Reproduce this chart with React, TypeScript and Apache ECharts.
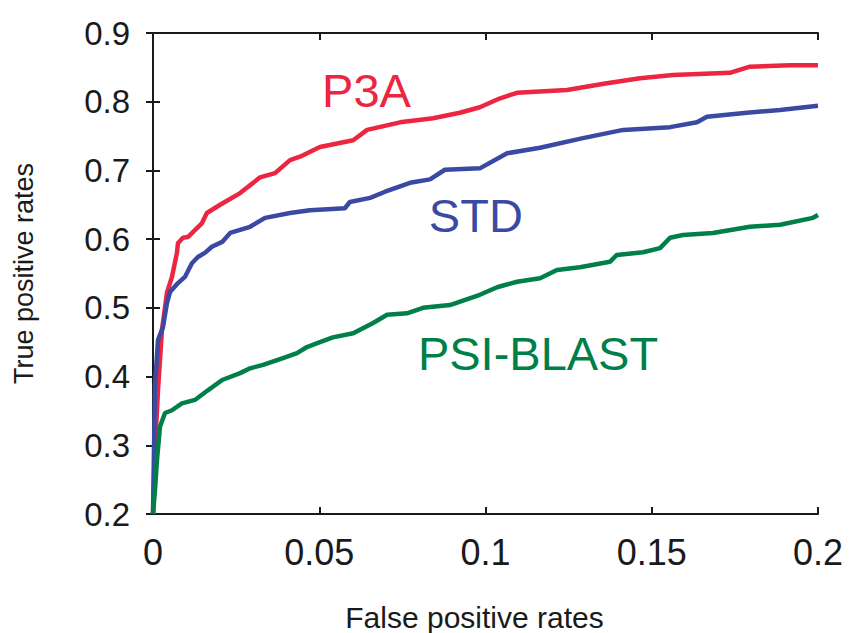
import React, { useEffect, useRef } from "react";
import * as echarts from "echarts";

// False positive rate (x) and true positive rate (y)
const p3aX = [0, 0.0006, 0.0015, 0.0027, 0.0042, 0.0057, 0.0072, 0.0075, 0.009, 0.0105, 0.0126, 0.0147, 0.0162, 0.0202, 0.0262, 0.0322, 0.0367, 0.0412, 0.0442, 0.0502, 0.0602, 0.0644, 0.0743, 0.0842, 0.0923, 0.0983, 0.1044, 0.1095, 0.1245, 0.1365, 0.1465, 0.1564, 0.1735, 0.1795, 0.1916, 0.2];
const p3aY = [0.2, 0.293, 0.38, 0.468, 0.522, 0.545, 0.58, 0.594, 0.602, 0.603, 0.613, 0.623, 0.638, 0.65, 0.667, 0.69, 0.696, 0.715, 0.72, 0.734, 0.744, 0.759, 0.77, 0.776, 0.784, 0.792, 0.805, 0.813, 0.817, 0.827, 0.834, 0.839, 0.842, 0.851, 0.853, 0.853];

const stdX = [0, 0.0003, 0.0006, 0.0015, 0.003, 0.0042, 0.0051, 0.0075, 0.0096, 0.0117, 0.0135, 0.0156, 0.0177, 0.0208, 0.0232, 0.0292, 0.0337, 0.0412, 0.0472, 0.0577, 0.0592, 0.0653, 0.0698, 0.0773, 0.0833, 0.0878, 0.0983, 0.1065, 0.1164, 0.1293, 0.1414, 0.1555, 0.1636, 0.1666, 0.1786, 0.1886, 0.2];
const stdY = [0.2, 0.293, 0.385, 0.453, 0.472, 0.507, 0.523, 0.536, 0.545, 0.565, 0.574, 0.58, 0.589, 0.596, 0.609, 0.618, 0.631, 0.638, 0.642, 0.645, 0.654, 0.66, 0.669, 0.682, 0.687, 0.701, 0.703, 0.725, 0.733, 0.747, 0.759, 0.763, 0.77, 0.778, 0.784, 0.788, 0.794];

const psiX = [0, 0.0006, 0.0012, 0.0021, 0.0036, 0.0057, 0.0087, 0.0126, 0.0165, 0.0208, 0.0262, 0.0292, 0.0331, 0.0391, 0.0433, 0.0463, 0.0502, 0.0541, 0.0602, 0.0662, 0.0704, 0.0764, 0.0812, 0.0893, 0.0983, 0.1035, 0.1095, 0.1164, 0.1215, 0.1284, 0.1374, 0.1395, 0.1474, 0.1525, 0.1555, 0.1594, 0.1684, 0.1795, 0.1886, 0.1985, 0.2];
const psiY = [0.2, 0.235, 0.279, 0.327, 0.347, 0.351, 0.361, 0.366, 0.38, 0.395, 0.405, 0.412, 0.417, 0.427, 0.434, 0.443, 0.45, 0.457, 0.463, 0.478, 0.49, 0.492, 0.5, 0.504, 0.519, 0.53, 0.538, 0.543, 0.555, 0.559, 0.567, 0.577, 0.581, 0.587, 0.602, 0.606, 0.609, 0.618, 0.621, 0.631, 0.635];

const seriesNames = ["P3A", "STD", "PSI-BLAST"];
const seriesColors = ["#ec2540", "#3a4aa3", "#007f48"];
// label anchor positions (data coordinates)
const labelX = [0.0642, 0.0971, 0.1158];
const labelY = [0.817, 0.635, 0.433];

const xTicks = [0, 0.05, 0.1, 0.15, 0.2];
const yTicks = [0.2, 0.3, 0.4, 0.5, 0.6, 0.7, 0.8, 0.9];

const FONT = "'Liberation Sans', Arial, Helvetica, sans-serif";

export default function App() {
  const ref = useRef<HTMLDivElement>(null);
  useEffect(() => {
    document.body.style.margin = "0";
    const chart = echarts.init(ref.current!, null, { renderer: "svg" });
    const xs = [p3aX, stdX, psiX];
    const ys = [p3aY, stdY, psiY];
    const axisLine = { show: true, lineStyle: { color: "#1a1a1a", width: 2 } };
    const axisTick = { show: true, inside: true, length: 7, lineStyle: { color: "#1a1a1a", width: 2 } };
    const option: any = {
      animation: false,
      backgroundColor: "#ffffff",
      grid: { left: 153, right: 37, top: 33, bottom: 119, containLabel: false, outerBoundsMode: "none" },
      xAxis: [
        {
          type: "value",
          min: xTicks[0],
          max: xTicks[xTicks.length - 1],
          interval: 0.05,
          position: "bottom",
          axisLine,
          axisTick,
          splitLine: { show: false },
          axisLabel: {
            margin: 20,
            fontSize: 36,
            color: "#1a1a1a",
            fontFamily: FONT,
            formatter: (v: number) => String(+v.toFixed(2)),
          },
          name: "False positive rates",
          nameLocation: "middle",
          nameGap: 88,
          nameTextStyle: { fontSize: 30, color: "#1a1a1a", fontFamily: FONT, padding: [0, 22, 0, 0] },
        },
        {
          type: "value",
          min: xTicks[0],
          max: xTicks[xTicks.length - 1],
          interval: 0.05,
          position: "top",
          axisLine,
          axisTick,
          splitLine: { show: false },
          axisLabel: { show: false },
        },
      ],
      yAxis: [
        {
          type: "value",
          min: yTicks[0],
          max: yTicks[yTicks.length - 1],
          interval: 0.1,
          position: "left",
          axisLine,
          axisTick,
          splitLine: { show: false },
          axisLabel: {
            margin: 23,
            fontSize: 33,
            color: "#1a1a1a",
            fontFamily: FONT,
            formatter: (v: number) => v.toFixed(1),
          },
          name: "True positive rates",
          nameLocation: "middle",
          nameRotate: 90,
          nameGap: 116,
          nameTextStyle: { fontSize: 27, color: "#1a1a1a", fontFamily: FONT },
        },
        {
          type: "value",
          min: yTicks[0],
          max: yTicks[yTicks.length - 1],
          interval: 0.1,
          position: "right",
          axisLine,
          axisTick,
          splitLine: { show: false },
          axisLabel: { show: false },
        },
      ],
      series: seriesNames.map((name, i) => ({
        name,
        type: "line",
        xAxisIndex: 0,
        yAxisIndex: 0,
        showSymbol: false,
        symbol: "none",
        lineStyle: { color: seriesColors[i], width: 4.5 },
        data: xs[i].map((x, j) => [x, ys[i][j]]),
        markPoint: {
          symbol: "circle",
          symbolSize: 0,
          data: [{ coord: [labelX[i], labelY[i]], value: name }],
          label: {
            show: true,
            position: "inside",
            formatter: name,
            fontSize: 47,
            color: seriesColors[i],
            fontFamily: FONT,
          },
        },
      })),
    };
    chart.setOption(option);
    return () => chart.dispose();
  }, []);
  return <div ref={ref} style={{ width: 855, height: 633 }} />;
}
